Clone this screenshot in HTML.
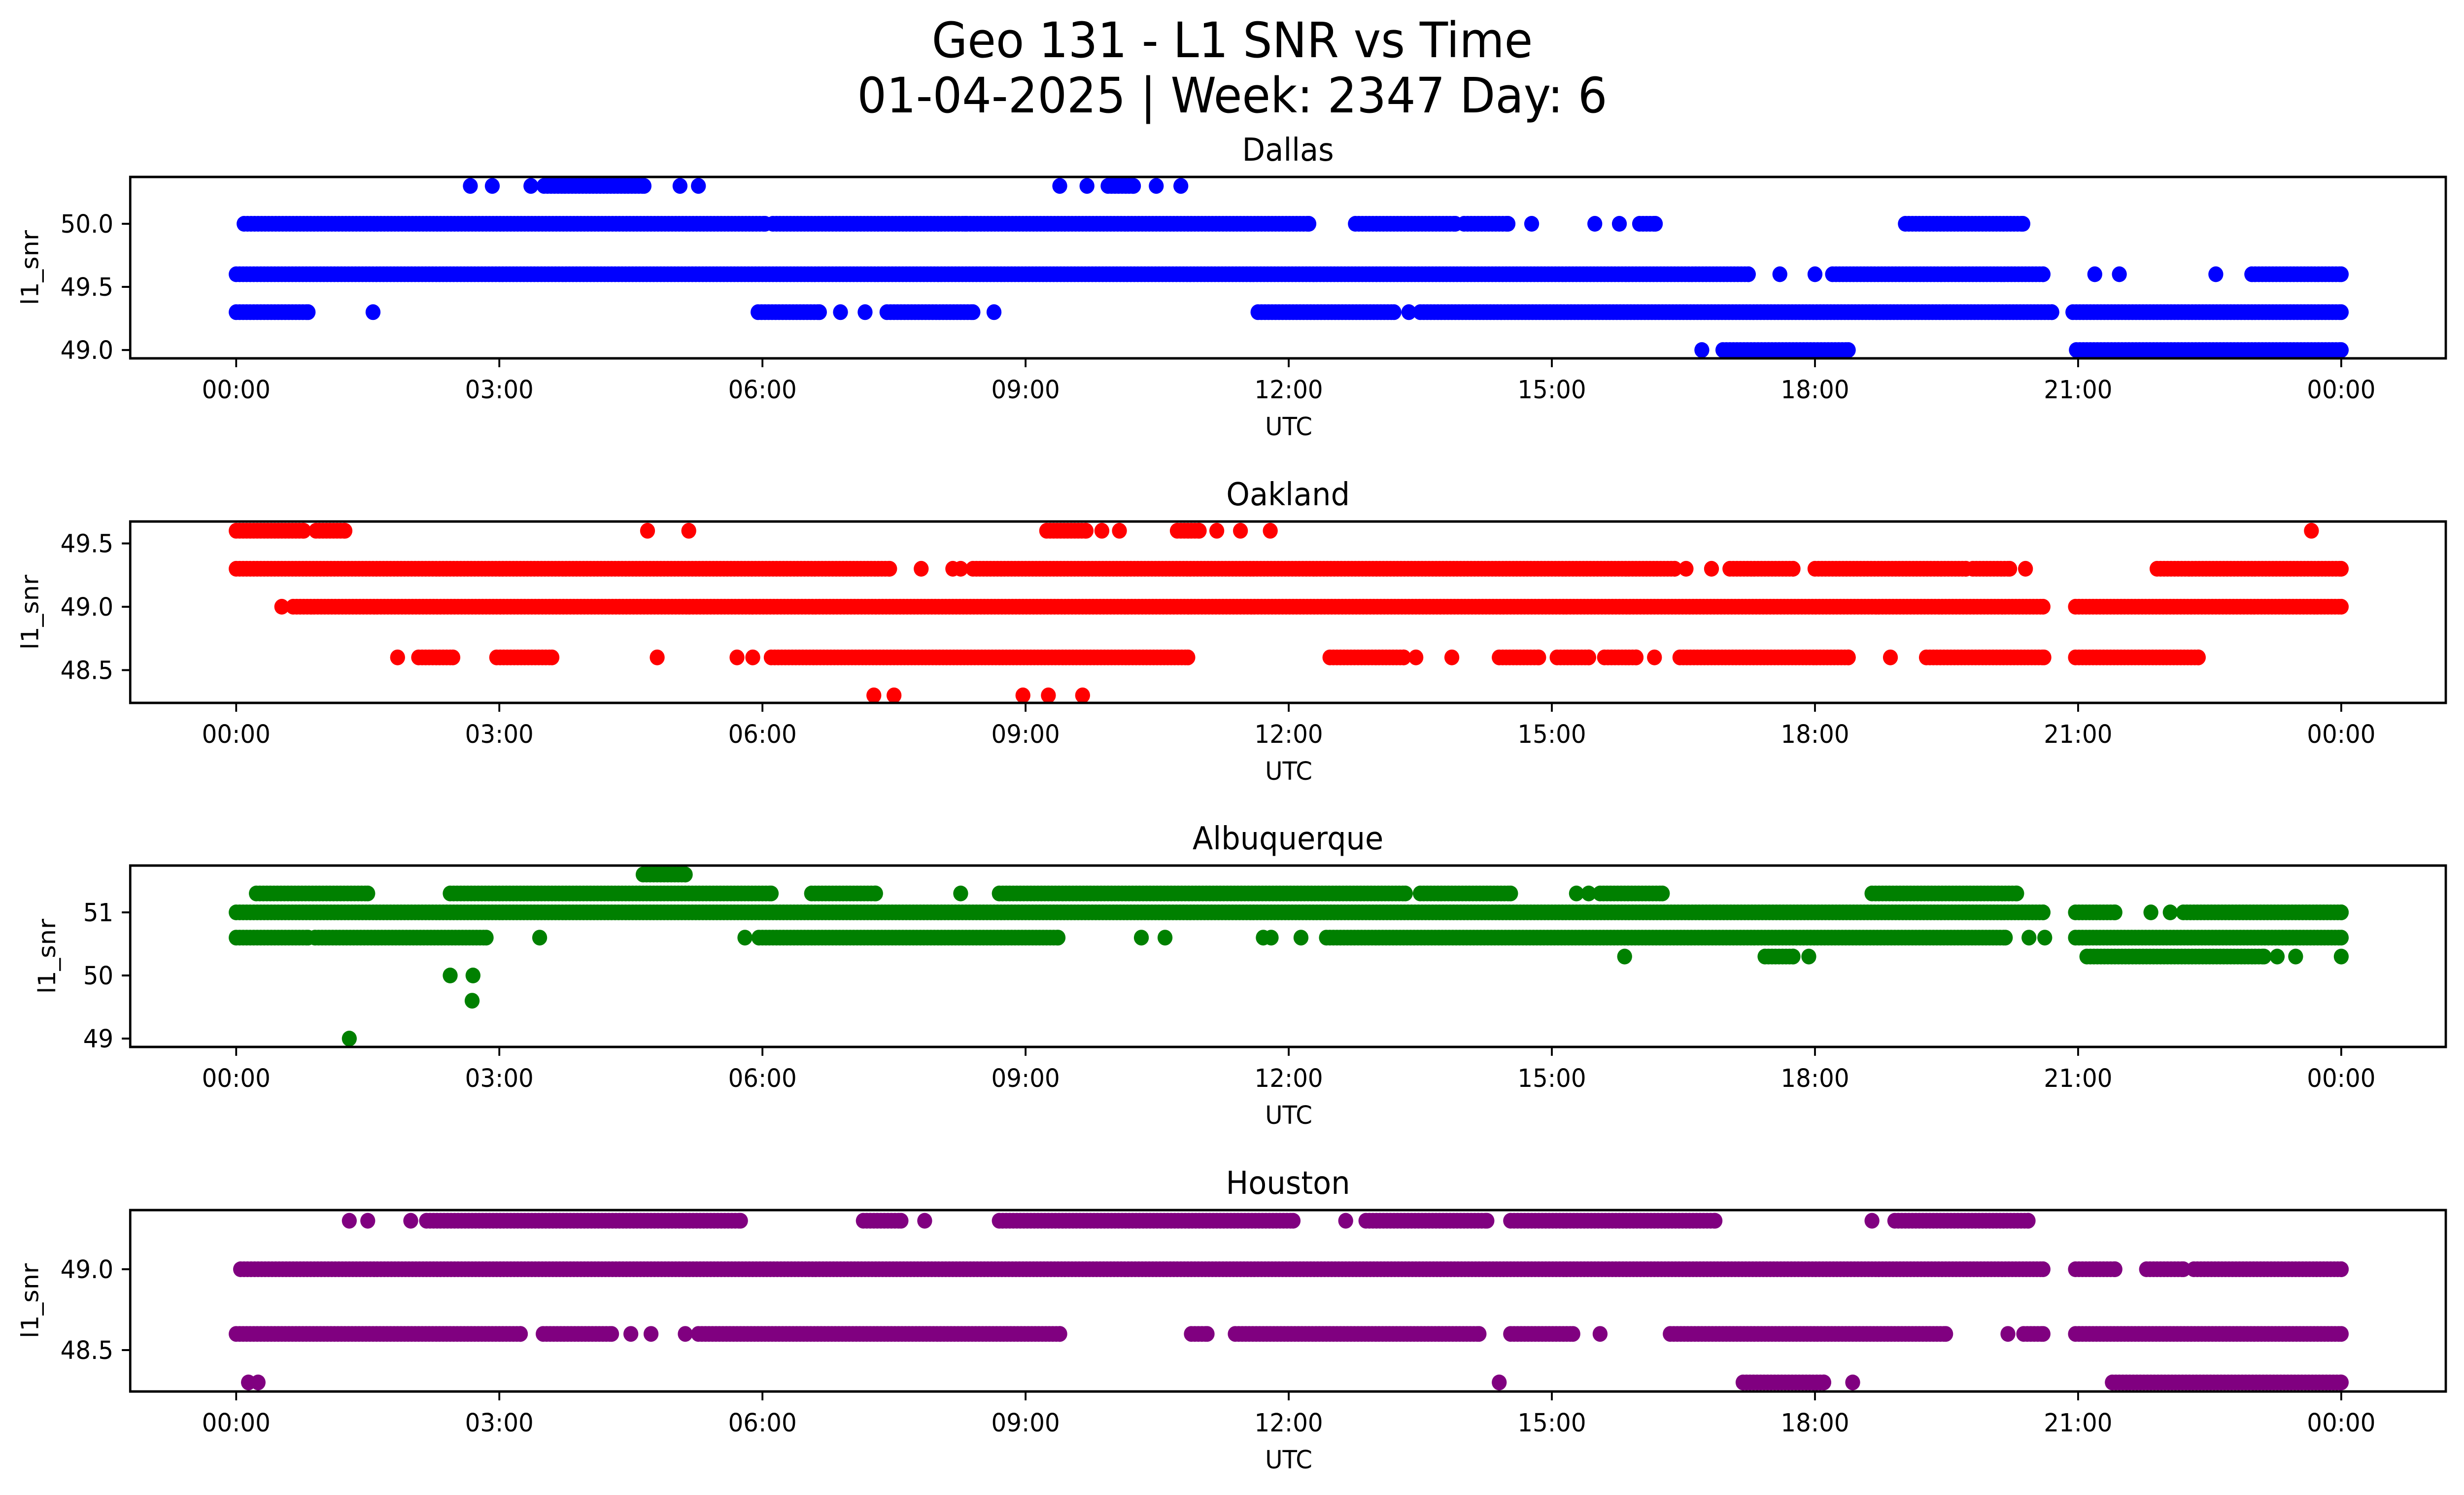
<!DOCTYPE html>
<html><head><meta charset="utf-8"><style>
html,body{margin:0;padding:0;background:#fff;width:100%;height:100%;overflow:hidden}
svg{display:block;width:100vw;height:100vh}
text{font-family:"DejaVu Sans","Liberation Sans",sans-serif;fill:#000}
</style></head><body>
<svg id="chart" viewBox="0 0 5279 3033" preserveAspectRatio="none" xmlns="http://www.w3.org/2000/svg">
<rect width="5279" height="3033" fill="#fff"/>
<text x="2640" y="116" font-size="99" text-anchor="middle">Geo 131 - L1 SNR vs Time</text>
<text x="2640" y="228" font-size="99" text-anchor="middle">01-04-2025 | Week: 2347 Day: 6</text>
</svg>
<script>
const panelNames = ["Dallas","Oakland","Albuquerque","Houston"];
const panelColors = ["#0000ff","#ff0000","#008000","#800080"];
const xTickHours = [0,3,6,9,12,15,18,21,24];
const xTickLabels = ["00:00","03:00","06:00","09:00","12:00","15:00","18:00","21:00","00:00"];
const yLimits = [[48.934,50.371],[48.241,49.673],[48.867,51.742],[48.244,49.366]];
const yTicks = [[49.0,49.5,50.0],[48.5,49.0,49.5],[49,50,51],[48.5,49.0]];
const yTickLabels = [["49.0","49.5","50.0"],["48.5","49.0","49.5"],["49","50","51"],["48.5","49.0"]];
// Each level: [snr value, [[startHour,endHour],...]]
const dallasLevels = [
 [50.3,[[2.67,2.67],[2.92,2.92],[3.36,3.36],[3.51,4.65],[5.06,5.06],[5.27,5.27],[9.39,9.39],[9.70,9.70],[9.94,10.23],[10.49,10.49],[10.77,10.77]]],
 [50.0,[[0.09,6.03],[6.12,8.31],[8.33,12.23],[12.76,13.9],[14.0,14.5],[14.77,14.77],[15.49,15.49],[15.77,15.77],[16.0,16.18],[19.03,20.37]]],
 [49.6,[[0.0,17.24],[17.6,17.6],[18.0,18.0],[18.2,20.6],[21.19,21.19],[21.47,21.47],[22.57,22.57],[22.98,24.0]]],
 [49.3,[[0.0,0.82],[1.56,1.56],[5.95,6.65],[6.89,6.89],[7.17,7.17],[7.42,8.4],[8.64,8.64],[11.65,13.2],[13.37,13.37],[13.5,20.7],[20.94,24.0]]],
 [49.0,[[16.71,16.71],[16.95,18.38],[20.98,24.0]]]
];
const oaklandLevels = [
 [49.6,[[0,0.77],[0.91,1.24],[4.69,4.69],[5.16,5.16],[9.24,9.69],[9.87,9.87],[10.07,10.07],[10.73,10.98],[11.18,11.18],[11.45,11.45],[11.79,11.79],[23.66,23.66]]],
 [49.3,[[0,7.45],[7.81,7.81],[8.17,8.17],[8.26,8.26],[8.4,16.4],[16.53,16.53],[16.82,16.82],[17.03,17.75],[18.0,19.72],[19.8,20.22],[20.4,20.4],[21.9,24.0]]],
 [49.0,[[0.52,0.52],[0.65,20.6],[20.97,24.0]]],
 [48.6,[[1.84,1.84],[2.08,2.47],[2.97,3.6],[4.8,4.8],[5.71,5.71],[5.89,5.89],[6.1,10.85],[12.47,13.31],[13.45,13.45],[13.86,13.86],[14.4,14.85],[15.06,15.42],[15.6,15.96],[16.17,16.17],[16.46,18.38],[18.86,18.86],[19.27,20.61],[20.97,22.37]]],
 [48.3,[[7.27,7.27],[7.5,7.5],[8.97,8.97],[9.26,9.26],[9.65,9.65]]]
];
const albuquerqueLevels = [
 [51.6,[[4.64,5.12]]],
 [51.3,[[0.23,1.5],[2.44,6.1],[6.56,7.29],[8.26,8.26],[8.7,13.33],[13.5,14.53],[15.28,15.28],[15.42,15.42],[15.55,16.26],[18.65,20.3]]],
 [51.0,[[0,20.6],[20.97,21.42],[21.83,21.83],[22.05,22.05],[22.2,24]]],
 [50.6,[[0,0.82],[0.9,2.85],[3.46,3.46],[5.8,5.8],[5.96,9.37],[10.32,10.32],[10.59,10.59],[11.71,11.71],[11.8,11.8],[12.14,12.14],[12.43,20.17],[20.44,20.44],[20.62,20.62],[20.97,24]]],
 [50.3,[[15.83,15.83],[17.43,17.75],[17.93,17.93],[21.1,23.12],[23.27,23.27],[23.48,23.48],[24,24]]],
 [50.0,[[2.44,2.44],[2.7,2.7]]],
 [49.6,[[2.69,2.69]]],
 [49.0,[[1.29,1.29]]]
];
const houstonLevels = [
 [49.3,[[1.29,1.29],[1.5,1.5],[1.99,1.99],[2.17,5.75],[7.15,7.58],[7.85,7.85],[8.7,12.05],[12.65,12.65],[12.88,14.26],[14.53,16.86],[18.65,18.65],[18.91,20.43]]],
 [49.0,[[0.05,20.6],[20.97,21.42],[21.78,22.2],[22.32,24]]],
 [48.6,[[0,3.24],[3.5,4.28],[4.5,4.5],[4.73,4.73],[5.12,5.12],[5.27,9.39],[10.89,11.07],[11.39,14.17],[14.53,15.24],[15.55,15.55],[16.35,19.49],[20.2,20.2],[20.38,20.6],[20.97,24]]],
 [48.3,[[0.14,0.14],[0.25,0.25],[14.4,14.4],[17.18,18.1],[18.43,18.43],[21.39,24]]]
];
const allLevels = [dallasLevels, oaklandLevels, albuquerqueLevels, houstonLevels];

const NS = "http://www.w3.org/2000/svg";
const svg = document.getElementById("chart");
const AX_L = 279, AX_R = 5240, AX_H = 368;
const panelTops = [359, 1058, 1756, 2455];
const X0 = 506, X24 = 5016;
function xScale(h){ return X0 + (X24 - X0) * h / 24; }
function yScale(p, v){ const t = panelTops[p], lim = yLimits[p]; return t + AX_H * (lim[1] - v) / (lim[1] - lim[0]); }
function mk(tag, attrs){ const e = document.createElementNS(NS, tag); for (const k in attrs) e.setAttribute(k, attrs[k]); return e; }

panelNames.forEach((name, p) => {
  const top = panelTops[p], bot = top + AX_H;
  const g = mk("g", {});
  
  
  svg.appendChild(g);
  const clip = mk("clipPath", {id: "clip" + p});
  clip.appendChild(mk("rect", {x: AX_L, y: top, width: AX_R - AX_L, height: AX_H}));
  g.appendChild(clip);
  const pts = mk("g", {fill: panelColors[p], "clip-path": "url(#clip" + p + ")"});
  
  
  g.appendChild(pts);
  allLevels[p].forEach(level => {
    const v = level[0];
    const cy = yScale(p, v);
    level[1].forEach(r => {
      const step = 0.04;
      for (let h = r[0]; h <= r[1] + 1e-9; h += step) {
        const c = mk("circle", {cx: xScale(h).toFixed(1), cy: cy.toFixed(1), r: 16});
        
        
        pts.appendChild(c);
      }
      if (r[1] > r[0]) {
        const c = mk("circle", {cx: xScale(r[1]).toFixed(1), cy: cy.toFixed(1), r: 16});
        
        
        pts.appendChild(c);
      }
    });
  });
  const frame = mk("rect", {x: AX_L, y: top, width: AX_R - AX_L, height: AX_H, fill: "none", stroke: "#000", "stroke-width": 5});
  
  
  g.appendChild(frame);
  const title = mk("text", {x: (AX_L + AX_R) / 2, y: top - 33, "font-size": 64, "text-anchor": "middle"});
  title.textContent = name;
  
  
  g.appendChild(title);
  xTickHours.forEach((h, i) => {
    const x = xScale(h);
    const tk = mk("line", {x1: x, x2: x, y1: bot, y2: bot + 18, stroke: "#000", "stroke-width": 4});
    
    
    g.appendChild(tk);
    const lb = mk("text", {x: x, y: bot + 81, "font-size": 51, "text-anchor": "middle"});
    lb.textContent = xTickLabels[i];
    
    
    g.appendChild(lb);
  });
  const xl = mk("text", {x: xScale(12), y: bot + 156, "font-size": 51, "text-anchor": "middle"});
  xl.textContent = "UTC";
  
  
  g.appendChild(xl);
  yTicks[p].forEach((v, i) => {
    const y = yScale(p, v);
    const tk = mk("line", {x1: AX_L - 18, x2: AX_L, y1: y, y2: y, stroke: "#000", "stroke-width": 4});
    
    
    g.appendChild(tk);
    const lb = mk("text", {x: AX_L - 36, y: y + 18, "font-size": 51, "text-anchor": "end"});
    lb.textContent = yTickLabels[p][i];
    
    
    g.appendChild(lb);
  });
  const yc = top + AX_H / 2;
  const ylx = p === 2 ? 100 : 64;
  const yl = mk("text", {x: ylx, y: yc, "font-size": 51, "text-anchor": "middle", transform: "rotate(-90 " + ylx + " " + yc + ") translate(0 18)"});
  yl.textContent = "l1_snr";
  
  
  g.appendChild(yl);
});
</script>
</body></html>
